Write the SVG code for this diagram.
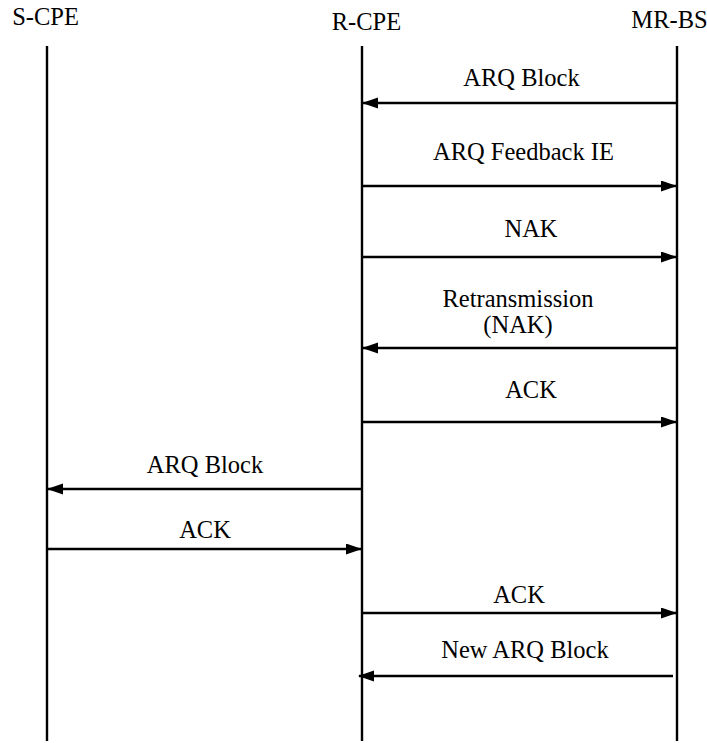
<svg xmlns="http://www.w3.org/2000/svg" width="707" height="743" viewBox="0 0 707 743">
<style>
text{font-family:"Liberation Serif","Times New Roman",serif;font-size:24.5px;fill:#000;text-anchor:middle}
.life{stroke:#000;stroke-width:2.4}
.msg{stroke:#000;stroke-width:2.4;fill:none}
</style>
<defs>
<marker id="ah" markerUnits="userSpaceOnUse" markerWidth="16" markerHeight="12" refX="15" refY="5.5" orient="auto">
<path d="M0,0 L16,5.5 L0,11 Z" fill="#000"/>
</marker>
</defs>
<rect width="707" height="743" fill="#fff"/>
<g id="S-CPE">
<text x="45.5" y="25">S-CPE</text>
<line class="life" x1="47" y1="46" x2="47" y2="741"/>
</g>
<g id="R-CPE">
<text x="366.5" y="30">R-CPE</text>
<line class="life" x1="362" y1="46" x2="362" y2="741"/>
</g>
<g id="MR-BS">
<text x="669.5" y="28">MR-BS</text>
<line class="life" x1="677" y1="46" x2="677" y2="741"/>
</g>
<g id="connectors">
<line class="msg" x1="677" y1="103" x2="363" y2="103" marker-end="url(#ah)"/>
<text x="521.5" y="86">ARQ Block</text>
<line class="msg" x1="362" y1="186" x2="676" y2="186" marker-end="url(#ah)"/>
<text x="523.5" y="160">ARQ Feedback IE</text>
<line class="msg" x1="362" y1="257" x2="676" y2="257" marker-end="url(#ah)"/>
<text x="531" y="236.5">NAK</text>
<line class="msg" x1="677" y1="348" x2="363" y2="348" marker-end="url(#ah)"/>
<text x="518" y="307">Retransmission</text>
<text x="518" y="333">(NAK)</text>
<line class="msg" x1="362" y1="422" x2="676" y2="422" marker-end="url(#ah)"/>
<text x="531" y="398">ACK</text>
<line class="msg" x1="362" y1="489" x2="48" y2="489" marker-end="url(#ah)"/>
<text x="205" y="473">ARQ Block</text>
<line class="msg" x1="47" y1="549" x2="361" y2="549" marker-end="url(#ah)"/>
<text x="205" y="538">ACK</text>
<line class="msg" x1="362" y1="613" x2="676" y2="613" marker-end="url(#ah)"/>
<text x="519" y="603">ACK</text>
<line class="msg" x1="673" y1="676" x2="359" y2="676" marker-end="url(#ah)"/>
<text x="525" y="658">New ARQ Block</text>
</g>
</svg>
